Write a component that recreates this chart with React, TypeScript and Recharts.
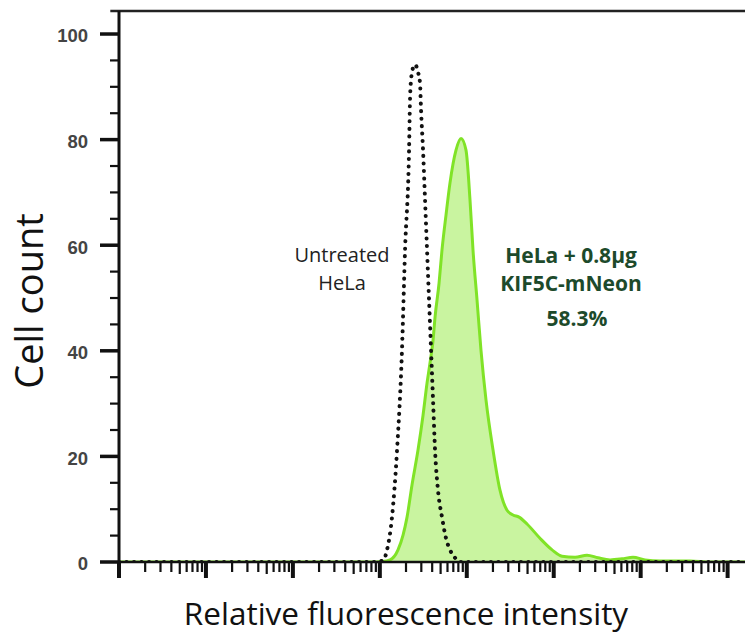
import React from 'react';
import { ComposedChart, Area, Line, XAxis, YAxis, ReferenceLine, ReferenceDot } from 'recharts';

// x = decades of fluorescence intensity (log10), counted from the axis origin
const treatedX = [0, 2.89, 3.025, 3.117, 3.209, 3.267, 3.313, 3.37, 3.439, 3.497, 3.543, 3.577, 3.612, 3.635, 3.681, 3.715, 3.761, 3.807, 3.876, 3.934, 3.991, 4.037, 4.072, 4.118, 4.164, 4.221, 4.302, 4.382, 4.463, 4.532, 4.601, 4.693, 4.842, 4.981, 5.095, 5.245, 5.383, 5.51, 5.648, 5.786, 5.912, 6.05, 6.223, 6.568, 6.798, 7.2];
const treatedCount = [0, 0, 0.1, 0.4, 2.3, 5.1, 8.5, 14.6, 21.2, 27.8, 33.9, 37.7, 42, 46.4, 52.8, 59.1, 65.7, 71.8, 78, 80.2, 78, 68.6, 59, 49.6, 40, 30.7, 21.2, 13.6, 9.8, 8.9, 8.5, 7.2, 4.5, 2.3, 1.1, 0.9, 1.3, 0.8, 0.4, 0.6, 0.9, 0.4, 0.2, 0.2, 0, 0];

const untreatedX = [0, 2.94, 3.037, 3.083, 3.14, 3.198, 3.255, 3.29, 3.336, 3.347, 3.359, 3.382, 3.405, 3.439, 3.462, 3.474, 3.497, 3.52, 3.543, 3.566, 3.589, 3.612, 3.635, 3.669, 3.715, 3.761, 3.807, 3.865, 3.922, 4.05, 7.2];
const untreatedCount = [0, 0, 0.3, 2.3, 8.5, 21.2, 40.2, 59.1, 78, 87.5, 91.3, 93.6, 94.2, 92.8, 90.7, 85.6, 78, 68.6, 59.1, 49.6, 40.2, 30.7, 21.2, 13.6, 8.5, 4.5, 2.3, 0.8, 0, 0, 0];

const Y_TICKS = [0, 5, 10, 15, 20, 25, 30, 35, 40, 45, 50, 55, 60, 65, 70, 75, 80, 85, 90, 95, 100];
const Y_LABELS = [0, 20, 40, 60, 80, 100];
const DECADES = [0, 1, 2, 3, 4, 5, 6, 7];
const MINOR_STEPS = [2, 3, 4, 5, 6, 7, 8, 9];

const X_MAX = 7.2;
const Y_TOP = 104.36;

const treatedData = treatedX.map((x, i) => ({ x, count: treatedCount[i] }));
const untreatedData = untreatedX.map((x, i) => ({ x, count: untreatedCount[i] }));
const xTicks = DECADES.flatMap(d => [d, ...MINOR_STEPS.map(m => d + Math.log10(m))]).filter(t => t <= X_MAX);

const GREEN_LINE = '#80e327';
const GREEN_FILL = '#c9f4a0';
const GREEN_TEXT = '#1d4a2b';
const FONT = '"Open Sans", sans-serif';

const XTick = (props: any) => {
    const { x, y, payload } = props;
    const major = DECADES.includes(payload.value);
    const mid = !major && Math.abs((payload.value % 1) - Math.log10(5)) < 1e-6;
    const len = major ? 16 : mid ? 12 : 10;
    return <line x1={x} x2={x} y1={y} y2={y + len} stroke="#111" strokeWidth={major ? 4 : 2.2} />;
};

const YTick = (props: any) => {
    const { x, y, payload } = props;
    const major = Y_LABELS.includes(payload.value);
    return (
        <g>
            <line x1={x - (major ? 19 : 9)} x2={x} y1={y} y2={y} stroke="#111" strokeWidth={major ? 3.5 : 2.2} />
            {major && (
                <text x={x - 31} y={y + 2} dy="0.35em" textAnchor="end" fontFamily='"Liberation Sans", Arial, sans-serif'
                    fontSize={18.5} fontWeight={700} fill="#444">
                    {payload.value}
                </text>
            )}
        </g>
    );
};

const untreatedLabel = (props: any) => {
    const { viewBox } = props;
    const cx = viewBox.x + viewBox.width / 2;
    const cy = viewBox.y + viewBox.height / 2;
    return (
        <text x={cx} y={cy} textAnchor="middle" fontFamily={FONT} fontSize={20} fill="#222">
            <tspan x={cx} dy="0.35em">Untreated</tspan>
            <tspan x={cx} dy={28}>HeLa</tspan>
        </text>
    );
};

const treatedLabel = (props: any) => {
    const { viewBox } = props;
    const cx = viewBox.x + viewBox.width / 2;
    const cy = viewBox.y + viewBox.height / 2;
    return (
        <text x={cx} y={cy} textAnchor="middle" fontFamily={FONT} fontSize={21} fontWeight={700} fill={GREEN_TEXT}>
            <tspan x={cx} dy="0.35em">HeLa + 0.8µg</tspan>
            <tspan x={cx} dy={28}>KIF5C-mNeon</tspan>
            <tspan x={cx + 6} dy={35}>58.3%</tspan>
        </text>
    );
};

const xTitle = (props: any) => {
    const { viewBox } = props;
    return (
        <text x={viewBox.x + 287} y={viewBox.y + 63} textAnchor="middle" fontFamily={FONT} fontSize={31.5} fill="#111">
            Relative fluorescence intensity
        </text>
    );
};

const yTitle = (props: any) => {
    const { viewBox } = props;
    const cx = 30;
    const cy = viewBox.y + 290;
    return (
        <text x={cx} y={cy} transform={`rotate(-90 ${cx} ${cy})`} dy="0.35em" textAnchor="middle"
            fontFamily={FONT} fontSize={38} fill="#111">
            Cell count
        </text>
    );
};

export default function App() {
    return (
        <div>
            <style>{'body { margin: 0; background: #fff; }'}</style>
            <ComposedChart width={745} height={634} margin={{ top: 11, right: 0, bottom: 0, left: 0 }}>
                <XAxis type="number" dataKey="x" domain={[0, X_MAX]} ticks={xTicks} allowDataOverflow interval={0}
                    height={72} tickSize={0} tickMargin={0} tickLine={false} tick={<XTick />}
                    axisLine={{ stroke: '#111', strokeWidth: 2.5 }} label={{ content: xTitle }} />
                <YAxis type="number" domain={[0, Y_TOP]} ticks={Y_TICKS} allowDataOverflow interval={0}
                    width={119} tickSize={0} tickMargin={0} tickLine={false} tick={<YTick />}
                    axisLine={{ stroke: '#111', strokeWidth: 3 }} label={{ content: yTitle }} />
                <ReferenceLine segment={[{ x: -0.1, y: Y_TOP }, { x: X_MAX, y: Y_TOP }]} ifOverflow="visible"
                    stroke="#222" strokeWidth={2.5} />
                <Area data={treatedData} dataKey="count" type="monotone" stroke={GREEN_LINE} strokeWidth={3}
                    fill={GREEN_FILL} fillOpacity={1} dot={false} activeDot={false} isAnimationActive={false} />
                <Line data={untreatedData} dataKey="count" type="monotone" stroke="#111" strokeWidth={4}
                    strokeDasharray="0.1 7.4" strokeLinecap="round" dot={false} activeDot={false}
                    isAnimationActive={false} />
                <ReferenceDot x={2.565} y={58.1} r={1} fill="none" stroke="none" label={{ content: untreatedLabel }} />
                <ReferenceDot x={5.199} y={58.1} r={1} fill="none" stroke="none" label={{ content: treatedLabel }} />
            </ComposedChart>
        </div>
    );
}
